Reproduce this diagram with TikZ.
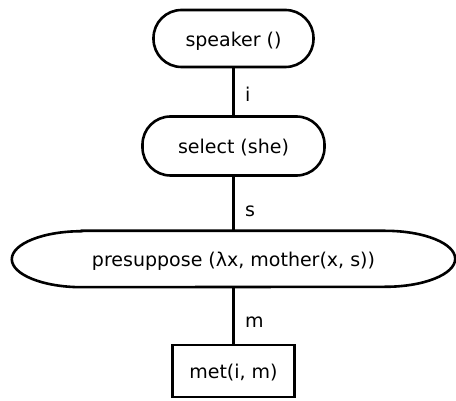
\documentclass[tikz,border=0pt]{standalone}
\usepackage{fontspec}
\setmainfont{DejaVu Sans}
\begin{document}
\begin{tikzpicture}[x=1pt,y=-1pt,
  every node/.style={font=\fontsize{19}{23}\selectfont, inner sep=0pt, text height=19pt, text depth=3pt},
  pill/.style={draw, line width=2.6pt, rounded corners=28pt, minimum height=57pt},
  box/.style={draw, line width=2.6pt, minimum width=122pt, minimum height=52pt},
  link/.style={line width=2.6pt},
  lbl/.style={anchor=base west, text height=, text depth=}]
\useasboundingbox (0,0) rectangle (456,401);
% processing steps
\node[pill, minimum width=160pt] (spk) at (233.5,38.5) {speaker ()};
\node[pill, minimum width=182pt, minimum height=59pt] (sel) at (233.5,146) {select (she)};
\node[minimum width=443pt, minimum height=56pt] (pre) at (233.5,259) {presuppose (λx, mother(x, s))};
\draw[line width=2.6pt]
  ([xshift=70pt]pre.north west) -- ([xshift=-70pt]pre.north east)
  arc[start angle=90, end angle=-90, x radius=70pt, y radius=28pt]
  -- ([xshift=70pt]pre.south west)
  arc[start angle=270, end angle=90, x radius=70pt, y radius=28pt] -- cycle;
\node[box] (met) at (233.5,371) {met(i, m)};
% connectors and their labels
\draw[link] (spk) -- (sel);
\draw[link] (sel) -- (pre);
\draw[link] (pre) -- (met);
\node[lbl] (li) at (245,101.5) {i};
\node[lbl] (ls) at (245,217) {s};
\node[lbl] (lm) at (245,328) {m};
\end{tikzpicture}
\end{document}
